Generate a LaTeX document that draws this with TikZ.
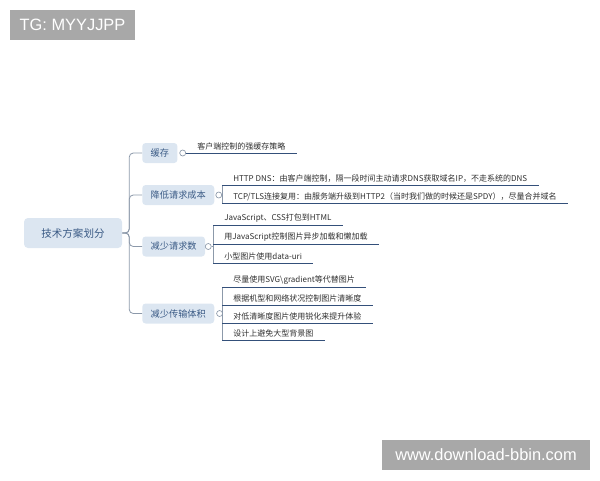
\documentclass[tikz,border=0pt]{standalone}
\usepackage{fontspec}
\setmainfont{Noto Sans CJK SC}
\newfontfamily\wmfont{Liberation Sans}
\definecolor{nodefill}{HTML}{DCE6F1}
\definecolor{nodetext}{HTML}{3A5A85}
\definecolor{leaftext}{HTML}{2E2E2E}
\definecolor{ulinecol}{HTML}{34507A}
\definecolor{conncol}{HTML}{8C99AA}
\definecolor{wmgray}{HTML}{A8A8A8}
\begin{document}
\begin{tikzpicture}[x=0.75pt,y=-0.75pt,
 rootbox/.style={fill=nodefill, rounded corners=3pt, text=nodetext, font=\fontsize{7.9}{9}\selectfont, minimum width=73.5pt, minimum height=22.5pt, inner sep=0pt},
 topic/.style={fill=nodefill, rounded corners=2.5pt, text=nodetext, font=\fontsize{6.9}{8}\selectfont, minimum height=15pt, inner xsep=6.3pt, inner ysep=0pt, anchor=west},
 leaf/.style={anchor=south west, inner xsep=8.3pt, inner ysep=1.6pt, font=\fontsize{6.0}{7}\selectfont, text=leaftext},
 uline/.style={draw=ulinecol, line width=0.7pt},
 conn/.style={draw=conncol, line width=0.6pt, rounded corners=3pt},
 knob/.style={circle, draw=conncol, fill=white, line width=0.5pt, minimum size=4.5pt, inner sep=0pt},
 wm/.style={fill=wmgray, text=white, font=\wmfont\fontsize{12.3}{14}\selectfont, inner sep=0pt, minimum height=22.5pt}]
\useasboundingbox (0,0) rectangle (600,480);

% watermarks
\node[wm, minimum width=93.75pt] (tg) at (72.5,25) {TG: MYYJJPP};
\node[wm, minimum width=156pt] (url) at (486,455) {www.download-bbin.com};

% root
\node[rootbox] (root) at (73,233) {技术方案划分};

% topics
\node[topic] (c1) at (142,153) {缓存};
\node[topic] (c2) at (142,195) {降低请求成本};
\node[topic] (c3) at (142,246.5) {减少请求数};
\node[topic] (c4) at (142,313.5) {减少传输体积};

\foreach \c in {c1,c2,c3,c4}{
  \draw[conn] (root.east) -- ++(7,0) |- (\c.west);
}

% knobs
\node[knob] (k1) at ([xshift=3.75pt]c1.east) {};
\node[knob] (k2) at ([xshift=3.2pt]c2.east) {};
\node[knob] (k3) at ([xshift=2.2pt]c3.east) {};
\node[knob] (k4) at ([xshift=3.8pt]c4.east) {};

% leaves of 缓存
\node[leaf] (l11) at (186,153) {客户端控制的强缓存策略};
\draw[conn] (k1.east) -- (l11.south west);
\draw[uline] (l11.south west) -- (l11.south east);

% leaves of 降低请求成本
\node[leaf] (l21) at (222,185) {HTTP DNS：由客户端控制，隔一段时间主动请求DNS获取域名IP，不走系统的DNS};
\node[leaf] (l22) at (222,203) {TCP/TLS连接复用：由服务端升级到HTTP2（当时我们做的时候还是SPDY），尽量合并域名};
\draw[conn] (k2.east) -- (k2.east -| l21.south west);
\draw[conn] (l21.south west) -- (l22.south west);
\foreach \l in {l21,l22}{\draw[uline] (\l.south west) -- (\l.south east);}

% leaves of 减少请求数
\node[leaf] (l31) at (213,225) {JavaScript、CSS打包到HTML};
\node[leaf] (l32) at (213,244) {用JavaScript控制图片异步加载和懒加载};
\node[leaf] (l33) at (213,263) {小型图片使用data-uri};
\draw[conn] (k3.east) -- (k3.east -| l31.south west);
\draw[conn] (l31.south west) -- (l33.south west);
\foreach \l in {l31,l32,l33}{\draw[uline] (\l.south west) -- (\l.south east);}

% leaves of 减少传输体积
\node[leaf] (l41) at (222,287) {尽量使用SVG\textbackslash gradient等代替图片};
\node[leaf] (l42) at (222,305) {根据机型和网络状况控制图片清晰度};
\node[leaf] (l43) at (222,323) {对低清晰度图片使用锐化来提升体验};
\node[leaf] (l44) at (222,340) {设计上避免大型背景图};
\draw[conn] (k4.east) -- (k4.east -| l41.south west);
\draw[conn] (l41.south west) -- (l44.south west);
\foreach \l in {l41,l42,l43,l44}{\draw[uline] (\l.south west) -- (\l.south east);}
\end{tikzpicture}
\end{document}
